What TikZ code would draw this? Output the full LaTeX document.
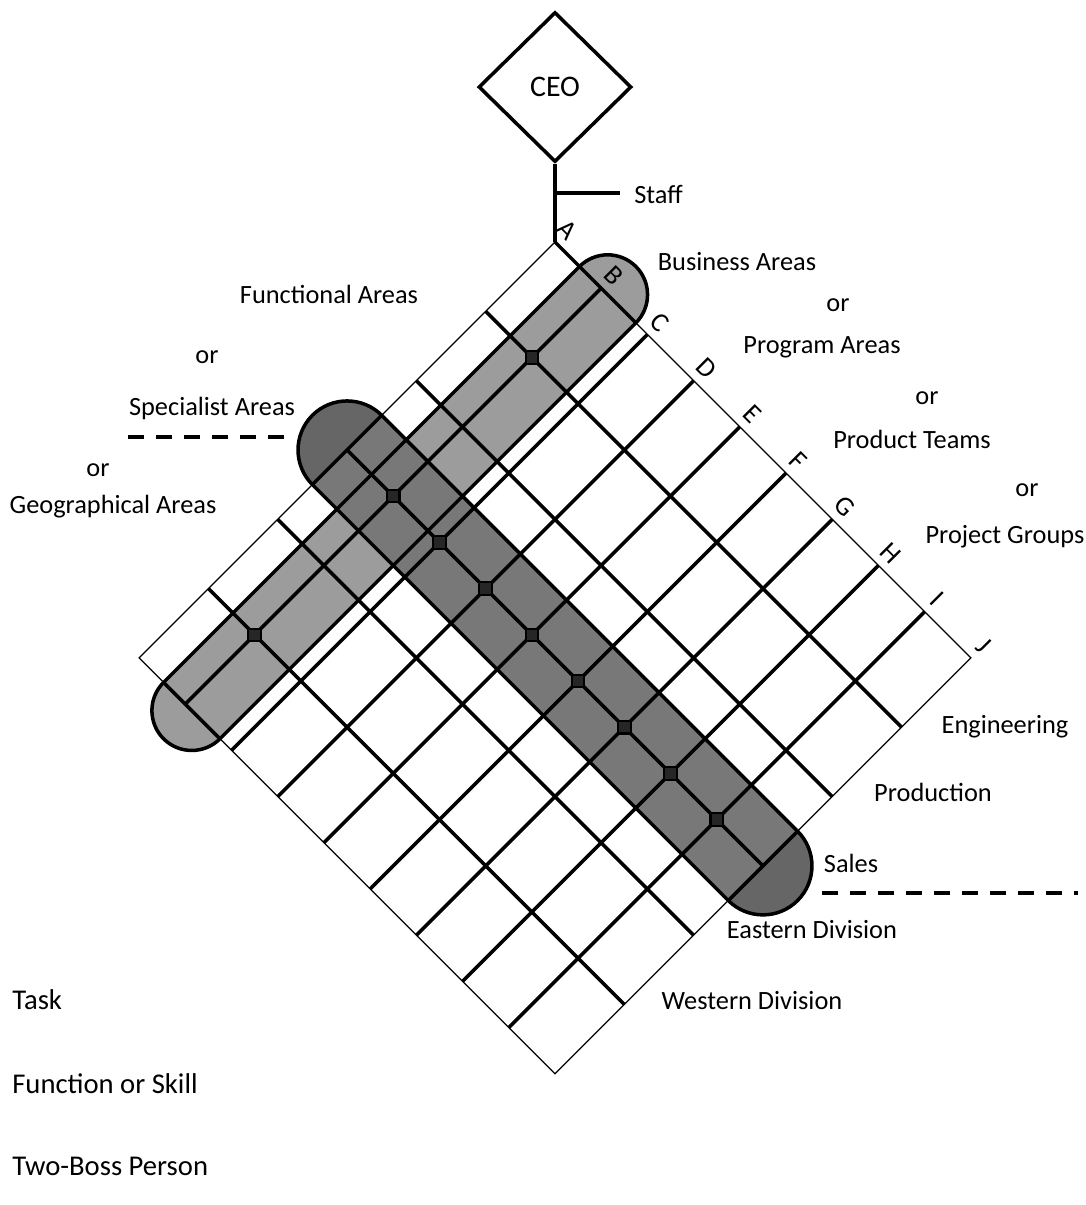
\documentclass[tikz,border=0pt]{standalone}
\usepackage{fontspec}
\setmainfont{Carlito}
\usetikzlibrary{shapes.geometric, positioning, calc}
\tikzset{
  ceobox/.style={
    draw, diamond, line width=2pt, inner sep=0pt,
    minimum width=3.06cm, minimum height=3cm,
    font=\fontsize{17}{20}\selectfont
  },
  arealabel/.style={
    inner sep=0pt, font=\fontsize{15}{18}\selectfont
  },
  legendlabel/.style={
    inner sep=0pt, anchor=base west, font=\fontsize{16.3}{19}\selectfont
  },
  letterlabel/.style={
    inner sep=0pt, rotate=-45, font=\fontsize{15.5}{18}\selectfont
  },
  gridline/.style={line width=2pt},
  gridedge/.style={line width=0.7pt},
  bandline/.style={line width=2pt, line join=round},
  lightfill/.style={fill=black!39},
  darkfill/.style={fill=black!53},
  capfill/.style={fill=black!60},
  crossing/.style={
    draw, rectangle, line width=1.2pt, fill=black!85,
    minimum size=0.25cm, inner sep=0pt
  },
  dashrule/.style={line width=2pt, dash pattern=on 0.32cm off 0.24cm},
}

\begin{document}
\begin{tikzpicture}[x=0.02cm, y=-0.02cm]
  \useasboundingbox (0,0) rectangle (1086,1205);

  % CEO and staff
  \node[ceobox] (ceo) at (555,87) {CEO};
  \coordinate (top) at (555,242);
  \coordinate (staffjoin) at (555,193);
  \coordinate (staffend) at (620,193);
  \node[arealabel, anchor=base west] (staff) at (634,203) {Staff};
  \draw[gridline] (ceo.south) -- (top);
  \draw[gridline] (staffjoin) -- (staffend);

  % Matrix: x = one column (A..J), y = one row
  \begin{scope}[shift={(top)}, rotate=-45, x=1.3073cm, y=-1.961cm]
    % Bands: fills first, outlines after
    \fill[lightfill] (0.53,0) -- (1.75,0) -- (1.75,6) -- (0.53,6) -- cycle;
    \fill[lightfill] (0.53,0) arc[start angle=180, end angle=0, radius=0.7975cm] -- cycle;
    \fill[lightfill] (1.75,6) arc[start angle=0, end angle=-180, radius=0.7975cm] -- cycle;
    \fill[darkfill] (0,2.5) -- (9,2.5) -- (9,3.5) -- (0,3.5) -- cycle;
    \fill[capfill] (0,2.5) arc[start angle=90, end angle=270, radius=0.9805cm] -- cycle;
    \fill[capfill] (9,3.5) arc[start angle=-90, end angle=90, radius=0.9805cm] -- cycle;

    \draw[bandline] (0.53,0) arc[start angle=180, end angle=0, radius=0.7975cm]
      -- (1.75,6) arc[start angle=0, end angle=-180, radius=0.7975cm] -- cycle;
    \draw[bandline] (0,2.5) arc[start angle=90, end angle=270, radius=0.9805cm]
      -- (9,3.5) arc[start angle=-90, end angle=90, radius=0.9805cm] -- cycle;

    % Frame and grid
    \draw[gridedge] (0,0) -- (9,0) -- (9,6) -- (0,6) -- cycle;
    \foreach \c in {1,...,8}
      \draw[gridline] (\c,0) -- (\c,6);
    \foreach \r in {1,...,5}
      \draw[gridline] (0,\r) -- (9,\r);
    \draw[gridline] (0,0) -- (1.75,0);
    \draw[gridline] (0.53,6) -- (1.75,6);
    \draw[gridline] (0,2.5) -- (0,3.5);
    \draw[gridline] (9,2.5) -- (9,3.5);

    % Column letters
    \foreach \c [count=\i from 0] in {A,B,C,D,E,F,G,H,I,J}
      \node[letterlabel] (col\c) at (\i,-0.18) {\c};

    % Two-boss crossings
    \foreach \c in {1,...,8}
      \node[crossing] (x\c) at (\c,3) {};
    \node[crossing] (xb1) at (1,1) {};
    \node[crossing] (xb5) at (1,5) {};
  \end{scope}

  % Dashed rules
  \coordinate (dashLa) at (128,437);
  \coordinate (dashLb) at (295,437);
  \coordinate (dashRa) at (822,893);
  \coordinate (dashRb) at (1078,893);
  \draw[dashrule] (dashLa) -- (dashLb);
  \draw[dashrule] (dashRa) -- (dashRb);

  % Right side
  \node[arealabel, anchor=base] (business) at (737,270) {Business Areas};
  \node[arealabel, anchor=base] (orB) at (838,311) {or};
  \node[arealabel, anchor=base] (program) at (822,353) {Program Areas};
  \node[arealabel, anchor=base] (orP) at (927,404) {or};
  \node[arealabel, anchor=base] (product) at (912,448) {Product Teams};
  \node[arealabel, anchor=base] (orT) at (1027,496) {or};
  \node[arealabel, anchor=base] (project) at (1005,543) {Project Groups};

  % Left side
  \node[arealabel, anchor=base] (functional) at (329,303) {Functional Areas};
  \node[arealabel, anchor=base] (orF) at (207,363) {or};
  \node[arealabel, anchor=base] (specialist) at (212,415) {Specialist Areas};
  \node[arealabel, anchor=base] (orS) at (98,476) {or};
  \node[arealabel, anchor=base] (geo) at (113,513) {Geographical Areas};

  % Rows
  \node[arealabel, anchor=base] (engineering) at (1005,733) {Engineering};
  \node[arealabel, anchor=base] (production) at (933,801) {Production};
  \node[arealabel, anchor=base] (sales) at (851,872) {Sales};
  \node[arealabel, anchor=base] (eastern) at (812,938) {Eastern Division};
  \node[arealabel, anchor=base] (western) at (752,1009) {Western Division};

  % Legend
  \node[legendlabel] (task) at (12,1009) {Task};
  \node[legendlabel] (skill) at (12,1093) {Function or Skill};
  \node[legendlabel] (twoboss) at (12,1175) {Two-Boss Person};
\end{tikzpicture}
\end{document}
